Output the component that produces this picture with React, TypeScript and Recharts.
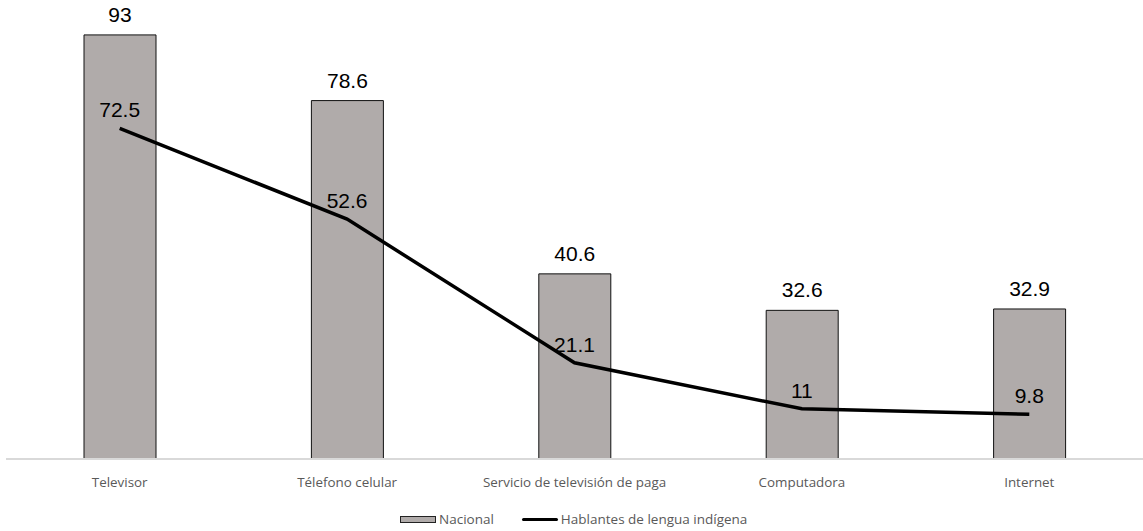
import { ComposedChart, Bar, Line, XAxis, YAxis, Legend, LabelList } from "recharts";

const categories = ["Televisor", "Télefono celular", "Servicio de televisión de paga", "Computadora", "Internet"];
const nacional = [93, 78.6, 40.6, 32.6, 32.9];
const indigena = [72.5, 52.6, 21.1, 11, 9.8];

const data = categories.map((name, i) => ({ name, nacional: nacional[i], indigena: indigena[i] }));

const BAR_FILL = "#b0abaa";
const LABEL_FONT = "'Liberation Sans', Arial, sans-serif";
const TEXT_FONT = "'Open Sans', 'Noto Sans', sans-serif";

function LegendContent() {
  return (
    <div
      style={{
        display: "flex",
        alignItems: "center",
        paddingLeft: 400,
        fontFamily: TEXT_FONT,
        fontSize: 13.5,
        color: "#595959",
      }}
    >
      <span style={{ display: "inline-block", width: 34, height: 5, background: BAR_FILL, border: "1px solid #222" }} />
      <span style={{ marginLeft: 3 }}>Nacional</span>
      <span style={{ display: "inline-block", width: 36, height: 3, background: "#000", marginLeft: 28, borderRadius: 2 }} />
      <span style={{ marginLeft: 3 }}>Hablantes de lengua indígena</span>
    </div>
  );
}

export default function App() {
  return (
    <div style={{ position: "absolute", left: 0, top: 0, background: "#fff" }}>
      <ComposedChart
        width={1143}
        height={531}
        data={data}
        margin={{ top: 3, right: 0, left: 6, bottom: 24 }}
        barSize={72}
      >
        <XAxis
          dataKey="name"
          axisLine={{ stroke: "#d9d9d9", strokeWidth: 2 }}
          tickLine={false}
          tick={{ fontSize: 13.4, fill: "#595959", fontFamily: TEXT_FONT }}
          dy={10}
          interval={0}
          height={30}
        />
        <YAxis hide domain={[0, 100]} />
        <Legend
          content={<LegendContent />}
          wrapperStyle={{ top: 510, left: 0, width: 1143 }}
        />
        <Bar dataKey="nacional" name="Nacional" fill={BAR_FILL} stroke="#111" strokeWidth={1} isAnimationActive={false}>
          <LabelList dataKey="nacional" position="top" offset={13} fill="#000" fontSize={21} fontFamily={LABEL_FONT} />
        </Bar>
        <Line
          dataKey="indigena"
          name="Hablantes de lengua indígena"
          stroke="#000"
          strokeWidth={3.5}
          dot={false}
          activeDot={false}
          type="linear"
          isAnimationActive={false}
        >
          <LabelList dataKey="indigena" position="top" offset={11} fill="#000" fontSize={21} fontFamily={LABEL_FONT} />
        </Line>
      </ComposedChart>
    </div>
  );
}
